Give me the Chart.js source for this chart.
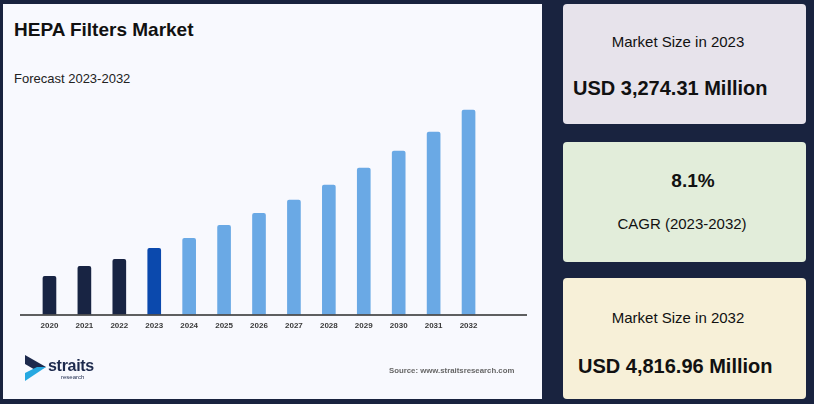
<!DOCTYPE html>
<html>
<head>
<meta charset="utf-8">
<script src="https://cdn.jsdelivr.net/npm/chart.js@4"></script>
<style>
    body { margin: 0; width: 814px; height: 404px; background: #19233f; position: relative; overflow: hidden; font-family: "Liberation Sans", Arial, sans-serif; }
    #panel { position: absolute; left: 3px; top: 4px; width: 539px; height: 395px; background: #f8f9fe; }
    #chart-box { position: absolute; left: 0; top: 0; width: 542px; height: 340px; }
    .title { position: absolute; left: 14px; top: 19px; font-size: 19px; font-weight: bold; color: #111; white-space: nowrap; }
    .subtitle { position: absolute; left: 14px; top: 71px; font-size: 13px; color: #222; white-space: nowrap; }
    .source { position: absolute; left: 389px; top: 366px; font-size: 7.8px; font-weight: bold; color: #666; white-space: nowrap; }
    .logo-text { position: absolute; left: 48px; top: 357px; font-size: 16px; font-weight: bold; color: #1d2a4d; letter-spacing: -0.3px; }
    .logo-sub { position: absolute; left: 61px; top: 374px; font-size: 6px; color: #1d2a4d; }
    .card { position: absolute; left: 563px; width: 243px; border-radius: 4px; }
    .card div { position: absolute; white-space: nowrap; color: #111; }
    .label { font-size: 15px; width: 230px; left: 0; text-align: center; line-height: 18px; }
    .big { font-size: 20px; font-weight: bold; line-height: 24px; }
</style>
</head>
<body>
<div id="panel"></div>
<div class="title">HEPA Filters Market</div>
<div class="subtitle">Forecast 2023-2032</div>
<div id="chart-box"><canvas id="chart" width="542" height="340"></canvas></div>
<svg style="position:absolute;left:0;top:0" width="60" height="400">
    <polygon points="25,355 46,367 37,371 25,364" fill="#1d2a4d"/>
    <polygon points="46,367 25,381 25,373 37,367" fill="#27a9e1"/>
</svg>
<div class="logo-text">straits</div>
<div class="logo-sub">research</div>
<div class="source">Source: www.straitsresearch.com</div>

<div class="card" style="top:4px;height:120px;background:#e7e3eb">
    <div class="label" style="top:29px">Market Size in 2023</div>
    <div class="big" style="left:10px;top:72px">USD 3,274.31 Million</div>
</div>
<div class="card" style="top:142px;height:120px;background:#e2edda">
    <div style="left:0;width:260px;text-align:center;top:27px;font-size:19px;font-weight:bold;line-height:23px">8.1%</div>
    <div class="label" style="top:73px;width:238px">CAGR (2023-2032)</div>
</div>
<div class="card" style="top:278px;height:121px;background:#f7f0d8">
    <div class="label" style="top:31px">Market Size in 2032</div>
    <div class="big" style="left:15px;top:76px">USD 4,816.96 Million</div>
</div>

<script>
'use strict';

// years on the x axis
const years = ['2020', '2021', '2022', '2023', '2024', '2025', '2026', '2027', '2028', '2029', '2030', '2031', '2032'];
// bar heights (relative units, the source chart has no y axis)
const bar_values = [38, 48, 55, 66, 76, 89, 101, 114, 129, 146, 163, 182, 204];
// historic / base year / forecast
const bar_kinds = ['hist', 'hist', 'hist', 'base', 'fc', 'fc', 'fc', 'fc', 'fc', 'fc', 'fc', 'fc', 'fc'];

const kind_colors = { hist: '#182443', base: '#0b49ad', fc: '#6aa9e5' };

// axis line in the picture runs past the bars on both sides
const base_line = {
    id: 'base_line',
    afterDatasetsDraw: chart => {
        const { ctx, chartArea } = chart;
        ctx.save();
        ctx.strokeStyle = '#2b2b2b';
        ctx.lineWidth = 1.5;
        ctx.beginPath();
        ctx.moveTo(chartArea.left - 12, chartArea.bottom + 0.5);
        ctx.lineTo(chartArea.right + 41, chartArea.bottom + 0.5);
        ctx.stroke();
        ctx.restore();
    }
};

new Chart(document.querySelector('#chart'), {
    type: 'bar',
    data: {
        labels: years,
        datasets: [{
            data: bar_values,
            backgroundColor: bar_kinds.map(k => kind_colors[k]),
            barThickness: 13,
            borderRadius: { topLeft: 2, topRight: 2 },
            borderSkipped: 'bottom'
        }]
    },
    options: {
        responsive: false,
        animation: false,
        layout: { padding: { left: 32, right: 56, top: 100, bottom: 2 } },
        plugins: { legend: { display: false }, tooltip: { enabled: false } },
        scales: {
            x: {
                grid: { display: false, drawTicks: false },
                border: { display: false },
                ticks: { color: '#3a3a3a', padding: 7, font: { family: '"Liberation Sans", Arial', size: 8, weight: 'bold' } }
            },
            y: { display: false, min: 0, max: 214 }
        }
    },
    plugins: [base_line]
});
</script>
</body>
</html>
